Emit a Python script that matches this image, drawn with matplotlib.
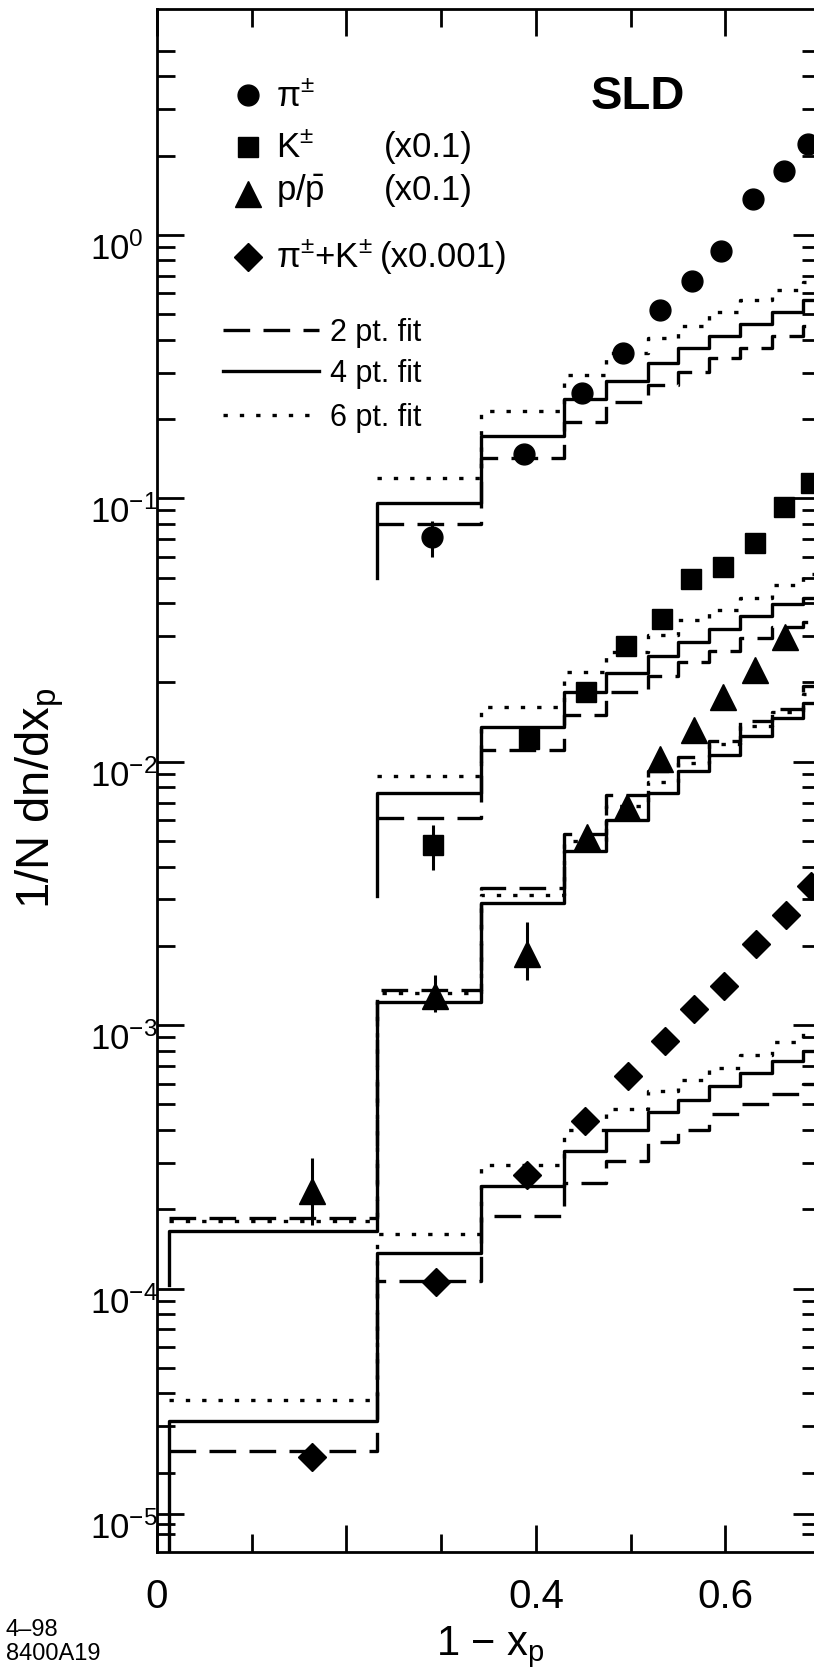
import matplotlib
matplotlib.use("Agg")
import matplotlib.pyplot as plt
from matplotlib.transforms import ScaledTranslation

plt.rcParams['font.family'] = ['Liberation Sans', 'DejaVu Sans']
plt.rcParams['mathtext.fontset'] = 'custom'
plt.rcParams['mathtext.rm'] = 'Liberation Sans'
plt.rcParams['mathtext.it'] = 'Liberation Sans:italic'
plt.rcParams['mathtext.bf'] = 'Liberation Sans:bold'
plt.rcParams['mathtext.sf'] = 'Liberation Sans'

# bin edges in 1 - x_p
edges = [0.013, 0.232, 0.342, 0.430, 0.474, 0.518, 0.550, 0.583, 0.616, 0.649, 0.682, 0.715]

# pi+-  (bins start at edges[1])
pi_fit2 = [0.0797, 0.142, 0.194, 0.233, 0.268, 0.301, 0.341, 0.373, 0.412, 0.449]
pi_fit4 = [0.0957, 0.172, 0.239, 0.278, 0.327, 0.373, 0.412, 0.460, 0.511, 0.567]
pi_fit6 = [0.119, 0.214, 0.295, 0.357, 0.407, 0.452, 0.511, 0.567, 0.619, 0.664]
pi_fit4_start = 0.0498
pi_x = [0.290, 0.387, 0.449, 0.492, 0.531, 0.565, 0.596, 0.629, 0.662, 0.687]
pi_y = [0.0711, 0.147, 0.250, 0.357, 0.520, 0.67, 0.87, 1.37, 1.75, 2.21]
pi_err = [0.011, 0.004, 0.005, 0.006, 0.008, 0.01, 0.012, 0.02, 0.025, 0.03]

# K+- x0.1  (bins start at edges[1])
k_fit2 = [0.00614, 0.0111, 0.0151, 0.0184, 0.0212, 0.0239, 0.0263, 0.0295, 0.0325, 0.0340]
k_fit4 = [0.00763, 0.0136, 0.0184, 0.0217, 0.0252, 0.0285, 0.0319, 0.0357, 0.0397, 0.0420]
k_fit6 = [0.00885, 0.0162, 0.0219, 0.0261, 0.0303, 0.0345, 0.0377, 0.0418, 0.0468, 0.0515]
k_fit4_start = 0.00308
k_x = [0.291, 0.393, 0.453, 0.495, 0.533, 0.564, 0.598, 0.631, 0.662, 0.690]
k_y = [0.00481, 0.0122, 0.0184, 0.0275, 0.0348, 0.0493, 0.0548, 0.0676, 0.0925, 0.114]
k_err = [0.00093, 0.0005, 0.0006, 0.0008, 0.001, 0.0012, 0.0014, 0.0016, 0.002, 0.0025]

# p/pbar x0.1  (bins start at edges[0])
p_fit2 = [1.86e-4, 1.36e-3, 3.33e-3, 5.3e-3, 7.5e-3, 9.2e-3, 0.0104, 0.0120, 0.0143, 0.0159, 0.0194]
p_fit4 = [1.66e-4, 1.22e-3, 2.90e-3, 4.6e-3, 6.0e-3, 7.6e-3, 9.2e-3, 0.0106, 0.0125, 0.0146, 0.0167]
p_fit6 = [1.81e-4, 1.32e-3, 3.13e-3, 5.0e-3, 6.8e-3, 8.4e-3, 9.9e-3, 0.0117, 0.0137, 0.0155, 0.0181]
p_fit4_start = 1.03e-4
p_x = [0.164, 0.294, 0.391, 0.454, 0.496, 0.531, 0.567, 0.598, 0.631, 0.663]
p_y = [2.35e-4, 1.29e-3, 1.87e-3, 5.2e-3, 6.76e-3, 0.01026, 0.0132, 0.0176, 0.0223, 0.0297]
p_err_lo = [0.60e-4, 0.17e-3, 0.38e-3, 0.4e-3, 0.4e-3, 0.5e-3, 0.6e-3, 0.8e-3, 0.9e-3, 1.2e-3]
p_err_hi = [0.78e-4, 0.26e-3, 0.59e-3, 0.4e-3, 0.4e-3, 0.5e-3, 0.6e-3, 0.8e-3, 0.9e-3, 1.2e-3]

# pi+K x0.001  (bins start at edges[0])
d_fit2 = [2.41e-5, 1.07e-4, 1.89e-4, 2.52e-4, 3.05e-4, 3.6e-4, 4.0e-4, 4.6e-4, 5.0e-4, 5.5e-4, 6.0e-4]
d_fit4 = [3.13e-5, 1.36e-4, 2.45e-4, 3.33e-4, 4.0e-4, 4.7e-4, 5.2e-4, 5.9e-4, 6.6e-4, 7.3e-4, 8.0e-4]
d_fit6 = [3.77e-5, 1.61e-4, 2.95e-4, 4.0e-4, 4.8e-4, 5.6e-4, 6.2e-4, 6.9e-4, 7.7e-4, 8.6e-4, 9.3e-4]
d_fit4_start = 8e-6
d_x = [0.164, 0.295, 0.391, 0.452, 0.497, 0.536, 0.567, 0.599, 0.632, 0.664, 0.690]
d_y = [2.29e-5, 1.06e-4, 2.70e-4, 4.33e-4, 6.41e-4, 8.7e-4, 1.15e-3, 1.41e-3, 2.03e-3, 2.63e-3, 3.36e-3]

# axis ticks
x_major = [0, 0.2, 0.4, 0.6]
x_major_labels = ['0', '', '0.4', '0.6']
x_minor = [0.1, 0.3, 0.5]
y_major = [1e0, 1e-1, 1e-2, 1e-3, 1e-4, 10 ** -4.856]
y_major_labels = [r'$10^{0}$', r'$10^{-1}$', r'$10^{-2}$', r'$10^{-3}$', r'$10^{-4}$', r'$10^{-5}$']
y_minor = [k * 10.0 ** e for e in range(-5, 0) for k in range(2, 10)] + [2, 3, 4, 5] \
    + [10 ** -4.894, 10 ** -4.932]

W, H = 814, 1668
AX_L, AX_R, AX_T, AX_B = 157, 820, 9, 1552
LW = 2.4
STYLE2 = dict(ls=(0, (8, 4)))
STYLE4 = dict(ls='-')
STYLE6 = dict(ls=(0, (1.3, 3.6)))
MS_O, MS_S, MS_T, MS_D = 15, 14, 19, 14

fig = plt.figure(figsize=(W / 100, H / 100), dpi=100)
ax = fig.add_axes([AX_L / W, 1 - AX_B / H, (AX_R - AX_L) / W, (AX_B - AX_T) / H])
ax.set_yscale('log')
ax.set_xlim(0, 0.7)
ax.set_ylim(1e-5, 7.2)


def steps(bin_edges, vals, style, start=None):
    x = list(bin_edges[:len(vals) + 1])
    y = list(vals) + [vals[-1]]
    if start is not None:
        x = [x[0]] + x
        y = [start] + y
    ax.plot(x, y, drawstyle='steps-post', color='black', lw=LW, **style)


for fits, e, start in [((pi_fit2, pi_fit4, pi_fit6), edges[1:], pi_fit4_start),
                       ((k_fit2, k_fit4, k_fit6), edges[1:], k_fit4_start),
                       ((p_fit2, p_fit4, p_fit6), edges, p_fit4_start),
                       ((d_fit2, d_fit4, d_fit6), edges, d_fit4_start)]:
    steps(e, fits[0], STYLE2)
    steps(e, fits[1], STYLE4, start)
    steps(e, fits[2], STYLE6)

# data points
ax.errorbar(pi_x, pi_y, yerr=pi_err, fmt='none', ecolor='k', elinewidth=2.2, capsize=0)
ax.errorbar(k_x, k_y, yerr=k_err, fmt='none', ecolor='k', elinewidth=2.2, capsize=0)
ax.errorbar(p_x, p_y, yerr=[p_err_lo, p_err_hi], fmt='none', ecolor='k', elinewidth=2.2, capsize=0)
ax.plot(pi_x, pi_y, 'o', color='k', ms=MS_O, ls='none')
ax.plot(k_x, k_y, 's', color='k', ms=MS_S, ls='none')
ax.plot(p_x, p_y, '^', color='k', ms=MS_T, ls='none')
ax.plot(d_x, d_y, 'D', color='k', ms=MS_D, ls='none')

# axes frame and ticks
for s in ax.spines.values():
    s.set_linewidth(2)
ax.set_xticks(x_major)
ax.set_xticklabels(x_major_labels)
ax.set_xticks(x_minor, minor=True)
ax.set_yticks(y_major)
ax.set_yticklabels(y_major_labels)
ax.set_yticks(y_minor, minor=True)
ax.set_yticklabels([], minor=True)
ax.tick_params(which='both', direction='in', top=True, right=True, width=2)
ax.tick_params(which='major', length=19.5)
ax.tick_params(which='minor', length=13)
ax.tick_params(axis='x', pad=19, labelsize=29)
ax.tick_params(axis='y', pad=48, labelsize=25)
shift = ScaledTranslation(0, -0.11, fig.dpi_scale_trans)
for lab in ax.get_yticklabels():
    lab.set_horizontalalignment('left')
    lab.set_transform(lab.get_transform() + shift)


def fx(x):
    return x / W


def fy(y):
    return 1 - y / H


# legend
mk_x = fx(248)
fig.add_artist(plt.Line2D([mk_x], [fy(95)], marker='o', ms=MS_O, color='k', ls='none'))
fig.add_artist(plt.Line2D([mk_x], [fy(147)], marker='s', ms=MS_S, color='k', ls='none'))
fig.add_artist(plt.Line2D([mk_x], [fy(194)], marker='^', ms=MS_T, color='k', ls='none'))
fig.add_artist(plt.Line2D([mk_x], [fy(257)], marker='D', ms=MS_D, color='k', ls='none'))
fs = 25
fig.text(fx(276), fy(106), r'π$^{\pm}$', fontsize=fs, va='baseline')
fig.text(fx(276), fy(157), r'K$^{\pm}$', fontsize=fs, va='baseline')
fig.text(fx(276), fy(200), r'p/$\bar{\mathrm{p}}$', fontsize=fs, va='baseline')
fig.text(fx(276), fy(267), r'π$^{\pm}$+K$^{\pm}$', fontsize=fs, va='baseline')
fig.text(fx(384), fy(157), '(x0.1)', fontsize=fs, va='baseline')
fig.text(fx(384), fy(200), '(x0.1)', fontsize=fs, va='baseline')
fig.text(fx(380), fy(267), '(x0.001)', fontsize=fs, va='baseline')

for yl, style, label in [(330, STYLE2, '2 pt. fit'), (371, STYLE4, '4 pt. fit'), (415, STYLE6, '6 pt. fit')]:
    fig.add_artist(plt.Line2D([fx(223), fx(319)], [fy(yl), fy(yl)], color='k', lw=LW, **style))
    fig.text(fx(330), fy(yl + 11), label, fontsize=22, va='baseline')

fig.text(fx(638), fy(97), 'SLD', fontsize=34, fontweight='bold', ha='center', va='center')

# axis labels and figure code
fig.text(fx(490), fy(1655), r'1 − x$_{\mathrm{p}}$', fontsize=30, ha='center', va='baseline')
fig.text(fx(40), fy(798), r'1/N dn/dx$_{\mathrm{p}}$', fontsize=34, rotation=90, ha='center', va='center')
fig.text(fx(6), fy(1636), '4–98', fontsize=17, va='baseline')
fig.text(fx(6), fy(1660), '8400A19', fontsize=17, va='baseline')

fig.savefig('out.png', dpi=100)
